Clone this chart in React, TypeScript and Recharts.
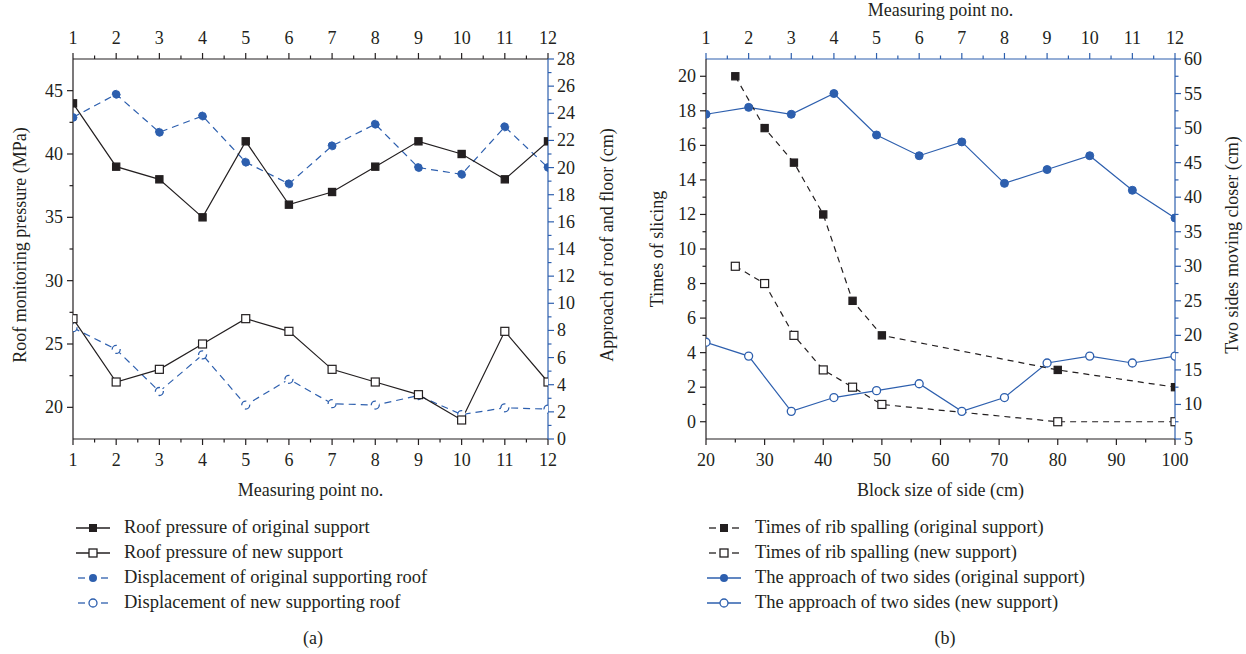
import React from 'react';
import { LineChart, Line, XAxis, YAxis, Legend } from 'recharts';

// ---------- data ----------
const measuringPoints = [1, 2, 3, 4, 5, 6, 7, 8, 9, 10, 11, 12];
const roofPressureOriginal = [44, 39, 38, 35, 41, 36, 37, 39, 41, 40, 38, 41];
const roofPressureNew = [27, 22, 23, 25, 27, 26, 23, 22, 21, 19, 26, 22];
const roofDisplacementOriginal = [23.7, 25.4, 22.6, 23.8, 20.4, 18.8, 21.6, 23.2, 20.0, 19.5, 23.0, 20.0];
const roofDisplacementNew = [8.2, 6.6, 3.5, 6.2, 2.5, 4.4, 2.6, 2.5, 3.2, 1.8, 2.3, 2.2];

const blockSizes = [25, 30, 35, 40, 45, 50, 80, 100];
const ribSpallingOriginal = [20, 17, 15, 12, 7, 5, 3, 2];
const ribSpallingNew = [9, 8, 5, 3, 2, 1, 0, 0];
const sideApproachOriginal = [52, 53, 52, 55, 49, 46, 48, 42, 44, 46, 41, 37];
const sideApproachNew = [19, 17, 9, 11, 12, 13, 9, 11, 16, 17, 16, 17];

// axis tick values (majors carry labels, the rest are minor marks)
const pointTicks = [1, 1.5, 2, 2.5, 3, 3.5, 4, 4.5, 5, 5.5, 6, 6.5, 7, 7.5, 8, 8.5, 9, 9.5, 10, 10.5, 11, 11.5, 12];
const pressureTicks = [20, 22.5, 25, 27.5, 30, 32.5, 35, 37.5, 40, 42.5, 45];
const displacementTicks = [0, 1, 2, 3, 4, 5, 6, 7, 8, 9, 10, 11, 12, 13, 14, 15, 16, 17, 18, 19, 20, 21, 22, 23, 24, 25, 26, 27, 28];
const slicingTicks = [0, 1, 2, 3, 4, 5, 6, 7, 8, 9, 10, 11, 12, 13, 14, 15, 16, 17, 18, 19, 20];
const closingTicks = [5, 7.5, 10, 12.5, 15, 17.5, 20, 22.5, 25, 27.5, 30, 32.5, 35, 37.5, 40, 42.5, 45, 47.5, 50, 52.5, 55, 57.5, 60];
const blockTicks = [20, 25, 30, 35, 40, 45, 50, 55, 60, 65, 70, 75, 80, 85, 90, 95, 100];

const roofRows = measuringPoints.map((p, i) => ({
  point: p,
  pressureOriginal: roofPressureOriginal[i],
  pressureNew: roofPressureNew[i],
  displacementOriginal: roofDisplacementOriginal[i],
  displacementNew: roofDisplacementNew[i],
}));
const ribOriginalRows = blockSizes.map((b, i) => ({ block: b, times: ribSpallingOriginal[i] }));
const ribNewRows = blockSizes.map((b, i) => ({ block: b, times: ribSpallingNew[i] }));
const approachOriginalRows = measuringPoints.map((p, i) => ({ point: p, approach: sideApproachOriginal[i] }));
const approachNewRows = measuringPoints.map((p, i) => ({ point: p, approach: sideApproachNew[i] }));

// ---------- styling ----------
const FONT = '"Liberation Serif", "DejaVu Serif", serif';
const INK = '#231f20';
const BLUE = '#2d5fae';
const FS = 18;
const LEGEND_FS = 18.5;

type Orient = 'top' | 'bottom' | 'left' | 'right';

const makeTick = (orient: Orient, color: string, isMajor: (v: number) => boolean) =>
  function AxisTick(props: any) {
    const { x, y, payload } = props;
    const v = payload.value as number;
    const major = isMajor(v);
    const len = major ? 6 : 3.5;
    let x2 = x, y2 = y, tx = x, ty = y;
    let anchor: 'middle' | 'end' | 'start' = 'middle';
    if (orient === 'bottom') { y2 = y + len; ty = y + 21; }
    if (orient === 'top') { y2 = y - len; ty = y - 21; }
    if (orient === 'left') { x2 = x - len; tx = x - 10; anchor = 'end'; }
    if (orient === 'right') { x2 = x + len; tx = x + 9; anchor = 'start'; }
    return (
      <g>
        <line x1={x} y1={y} x2={x2} y2={y2} stroke={color} strokeWidth={1.2} />
        {major && (
          <text x={tx} y={ty} textAnchor={anchor} dominantBaseline="central" fill={INK} fontFamily={FONT} fontSize={FS}>
            {v}
          </text>
        )}
      </g>
    );
  };

const every = (step: number) => (v: number) => Math.abs(v / step - Math.round(v / step)) < 1e-6;

const axisTitle = (text: string, place: (vb: any) => { x: number; y: number; angle?: number }) =>
  function AxisTitle(props: any) {
    const vb = props.viewBox || {};
    const { x, y, angle } = place(vb);
    return (
      <text
        x={x}
        y={y}
        transform={angle ? `rotate(${angle} ${x} ${y})` : undefined}
        textAnchor="middle"
        dominantBaseline="central"
        fill={INK}
        fontFamily={FONT}
        fontSize={FS}
      >
        {text}
      </text>
    );
  };

const squareDot = (filled: boolean, color: string) =>
  function SquareDot(p: any) {
    const { cx, cy, index } = p;
    if (cx == null || cy == null) return <g key={`sq-${index}`} />;
    const half = filled ? 3.6 : 4;
    return (
      <rect
        key={`sq-${index}`}
        x={cx - half}
        y={cy - half}
        width={half * 2}
        height={half * 2}
        fill={filled ? color : '#fff'}
        stroke={color}
        strokeWidth={1.2}
      />
    );
  };

type Marker = 'squareFilled' | 'squareOpen' | 'circleFilled' | 'circleOpen';
type SeriesStyle = { name: string; color: string; dashed: boolean; marker: Marker };

const roofSeries: SeriesStyle[] = [
  { name: 'Roof pressure of original support', color: INK, dashed: false, marker: 'squareFilled' },
  { name: 'Roof pressure of new support', color: INK, dashed: false, marker: 'squareOpen' },
  { name: 'Displacement of original supporting roof', color: BLUE, dashed: true, marker: 'circleFilled' },
  { name: 'Displacement of new supporting roof', color: BLUE, dashed: true, marker: 'circleOpen' },
];
const ribSeries: SeriesStyle[] = [
  { name: 'Times of rib spalling (original support)', color: INK, dashed: true, marker: 'squareFilled' },
  { name: 'Times of rib spalling (new support)', color: INK, dashed: true, marker: 'squareOpen' },
  { name: 'The approach of two sides (original support)', color: BLUE, dashed: false, marker: 'circleFilled' },
  { name: 'The approach of two sides (new support)', color: BLUE, dashed: false, marker: 'circleOpen' },
];

const LegendSymbol = ({ s }: { s: SeriesStyle }) => (
  <svg width={34} height={14} style={{ display: 'block' }}>
    {s.dashed ? (
      <>
        <line x1={2} y1={7} x2={9} y2={7} stroke={s.color} strokeWidth={1.3} />
        <line x1={25} y1={7} x2={32} y2={7} stroke={s.color} strokeWidth={1.3} />
      </>
    ) : (
      <line x1={0} y1={7} x2={34} y2={7} stroke={s.color} strokeWidth={1.3} />
    )}
    {s.marker === 'squareFilled' && <rect x={13.5} y={3.5} width={7} height={7} fill={s.color} stroke={s.color} />}
    {s.marker === 'squareOpen' && <rect x={13} y={3} width={8} height={8} fill="#fff" stroke={s.color} strokeWidth={1.3} />}
    {s.marker === 'circleFilled' && <circle cx={17} cy={7} r={4} fill={s.color} />}
    {s.marker === 'circleOpen' && <circle cx={17} cy={7} r={4} fill="#fff" stroke={s.color} strokeWidth={1.3} />}
  </svg>
);

// legend rows follow the series order given here, for the series the chart reports
const makeLegend = (styles: SeriesStyle[]) =>
  function SeriesLegend(props: any) {
    const payload: any[] = props.payload || [];
    const shown = styles.filter((s) => payload.some((e) => e.value === s.name));
    return (
      <div style={{ paddingTop: 16, fontFamily: FONT, fontSize: LEGEND_FS, color: INK }}>
        {shown.map((s) => (
          <div key={s.name} style={{ display: 'flex', alignItems: 'center', height: 25, whiteSpace: 'nowrap' }}>
            <LegendSymbol s={s} />
            <span style={{ marginLeft: 14, lineHeight: '25px' }}>{s.name}</span>
          </div>
        ))}
      </div>
    );
  };

const dotFor = (m: Marker, color: string): any => {
  if (m === 'squareFilled') return squareDot(true, color);
  if (m === 'squareOpen') return squareDot(false, color);
  if (m === 'circleFilled') return { r: 4, fill: color, stroke: color, strokeWidth: 1 };
  return { r: 4, fill: '#fff', stroke: color, strokeWidth: 1.3 };
};

// ---------- (a) roof pressure and roof-floor approach ----------
function RoofChart() {
  const [pO, pN, dO, dN] = roofSeries;
  return (
    <LineChart width={620} height={612} data={roofRows} margin={{ top: 0, right: 12, bottom: 0, left: 0 }}>
      <XAxis
        xAxisId="bottom"
        dataKey="point"
        type="number"
        domain={[1, 12]}
        allowDataOverflow
        ticks={pointTicks}
        interval={0}
        height={60}
        tickSize={0}
        tickMargin={0}
        tickLine={false}
        axisLine={{ stroke: INK, strokeWidth: 1.2 }}
        tick={makeTick('bottom', INK, every(1))}
        label={axisTitle('Measuring point no.', (vb) => ({ x: vb.x + vb.width / 2, y: vb.y + 51 }))}
      />
      <XAxis
        xAxisId="top"
        orientation="top"
        dataKey="point"
        type="number"
        domain={[1, 12]}
        allowDataOverflow
        ticks={pointTicks}
        interval={0}
        height={59}
        tickSize={0}
        tickMargin={0}
        tickLine={false}
        axisLine={{ stroke: INK, strokeWidth: 1.2 }}
        tick={makeTick('top', INK, every(1))}
      />
      <YAxis
        yAxisId="pressure"
        type="number"
        domain={[17.5, 47.5]}
        allowDataOverflow
        ticks={pressureTicks}
        interval={0}
        width={73}
        tickSize={0}
        tickMargin={0}
        tickLine={false}
        axisLine={{ stroke: INK, strokeWidth: 1.2 }}
        tick={makeTick('left', INK, every(5))}
        label={axisTitle('Roof monitoring pressure (MPa)', (vb) => ({ x: vb.x + 20, y: vb.y + vb.height / 2 - 4, angle: -90 }))}
      />
      <YAxis
        yAxisId="displacement"
        orientation="right"
        type="number"
        domain={[0, 28]}
        allowDataOverflow
        ticks={displacementTicks}
        interval={0}
        width={60}
        tickSize={0}
        tickMargin={0}
        tickLine={false}
        axisLine={{ stroke: BLUE, strokeWidth: 1.2 }}
        tick={makeTick('right', BLUE, every(2))}
        label={axisTitle('Approach of roof and floor (cm)', (vb) => ({ x: vb.x + 59, y: vb.y + vb.height / 2 - 4, angle: -90 }))}
      />
      <Legend
        layout="horizontal"
        verticalAlign="bottom"
        align="left"
        wrapperStyle={{ left: 76, bottom: 0, width: 520, height: 113 }}
        content={makeLegend(roofSeries)}
      />
      <Line xAxisId="bottom" yAxisId="displacement" name={dO.name} dataKey="displacementOriginal" stroke={BLUE} strokeWidth={1.2} strokeDasharray="7 5" dot={dotFor(dO.marker, BLUE)} activeDot={false} isAnimationActive={false} />
      <Line xAxisId="bottom" yAxisId="displacement" name={dN.name} dataKey="displacementNew" stroke={BLUE} strokeWidth={1.2} strokeDasharray="7 5" dot={dotFor(dN.marker, BLUE)} activeDot={false} isAnimationActive={false} />
      <Line xAxisId="bottom" yAxisId="pressure" name={pO.name} dataKey="pressureOriginal" stroke={INK} strokeWidth={1.2} dot={dotFor(pO.marker, INK)} activeDot={false} isAnimationActive={false} />
      <Line xAxisId="bottom" yAxisId="pressure" name={pN.name} dataKey="pressureNew" stroke={INK} strokeWidth={1.2} dot={dotFor(pN.marker, INK)} activeDot={false} isAnimationActive={false} />
    </LineChart>
  );
}

// ---------- (b) rib spalling and two-side approach ----------
function RibChart() {
  const [rO, rN, aO, aN] = ribSeries;
  return (
    <LineChart width={626} height={612} margin={{ top: 0, right: 6, bottom: 0, left: 0 }}>
      <XAxis
        xAxisId="bottom"
        dataKey="block"
        type="number"
        domain={[20, 100]}
        allowDataOverflow
        ticks={blockTicks}
        interval={0}
        height={60}
        tickSize={0}
        tickMargin={0}
        tickLine={false}
        axisLine={{ stroke: INK, strokeWidth: 1.2 }}
        tick={makeTick('bottom', INK, every(10))}
        label={axisTitle('Block size of side (cm)', (vb) => ({ x: vb.x + vb.width / 2, y: vb.y + 51 }))}
      />
      <XAxis
        xAxisId="top"
        orientation="top"
        dataKey="point"
        type="number"
        domain={[1, 12]}
        allowDataOverflow
        ticks={pointTicks}
        interval={0}
        height={59}
        tickSize={0}
        tickMargin={0}
        tickLine={false}
        axisLine={{ stroke: BLUE, strokeWidth: 1.2 }}
        tick={makeTick('top', BLUE, every(1))}
        label={axisTitle('Measuring point no.', (vb) => ({ x: vb.x + vb.width / 2, y: vb.y + 10 }))}
      />
      <YAxis
        yAxisId="slicing"
        type="number"
        domain={[-1, 21]}
        allowDataOverflow
        ticks={slicingTicks}
        interval={0}
        width={86}
        tickSize={0}
        tickMargin={0}
        tickLine={false}
        axisLine={{ stroke: INK, strokeWidth: 1.2 }}
        tick={makeTick('left', INK, every(2))}
        label={axisTitle('Times of slicing', (vb) => ({ x: vb.x + 37, y: vb.y + vb.height / 2, angle: -90 }))}
      />
      <YAxis
        yAxisId="closing"
        orientation="right"
        type="number"
        domain={[5, 60]}
        allowDataOverflow
        ticks={closingTicks}
        interval={0}
        width={65}
        tickSize={0}
        tickMargin={0}
        tickLine={false}
        axisLine={{ stroke: BLUE, strokeWidth: 1.2 }}
        tick={makeTick('right', BLUE, every(5))}
        label={axisTitle('Two sides moving closer (cm)', (vb) => ({ x: vb.x + 57, y: vb.y + vb.height / 2 - 4, angle: -90 }))}
      />
      <Legend
        layout="horizontal"
        verticalAlign="bottom"
        align="left"
        wrapperStyle={{ left: 87, bottom: 0, width: 520, height: 113 }}
        content={makeLegend(ribSeries)}
      />
      <Line data={approachOriginalRows} xAxisId="top" yAxisId="closing" name={aO.name} dataKey="approach" stroke={BLUE} strokeWidth={1.2} dot={dotFor(aO.marker, BLUE)} activeDot={false} isAnimationActive={false} />
      <Line data={approachNewRows} xAxisId="top" yAxisId="closing" name={aN.name} dataKey="approach" stroke={BLUE} strokeWidth={1.2} dot={dotFor(aN.marker, BLUE)} activeDot={false} isAnimationActive={false} />
      <Line data={ribOriginalRows} xAxisId="bottom" yAxisId="slicing" name={rO.name} dataKey="times" stroke={INK} strokeWidth={1.2} strokeDasharray="6 5" dot={dotFor(rO.marker, INK)} activeDot={false} isAnimationActive={false} />
      <Line data={ribNewRows} xAxisId="bottom" yAxisId="slicing" name={rN.name} dataKey="times" stroke={INK} strokeWidth={1.2} strokeDasharray="6 5" dot={dotFor(rN.marker, INK)} activeDot={false} isAnimationActive={false} />
    </LineChart>
  );
}

const captionStyle: React.CSSProperties = {
  position: 'absolute',
  top: 626,
  width: 60,
  textAlign: 'center',
  fontFamily: FONT,
  fontSize: FS,
  color: INK,
  lineHeight: '24px',
};

export default function App() {
  return (
    <div style={{ position: 'absolute', left: 0, top: 0, width: 1246, height: 654, background: '#fff', overflow: 'hidden' }}>
      <div style={{ position: 'absolute', left: 0, top: 0 }}>
        <RoofChart />
      </div>
      <div style={{ position: 'absolute', left: 620, top: 0 }}>
        <RibChart />
      </div>
      <div style={{ ...captionStyle, left: 283 }}>(a)</div>
      <div style={{ ...captionStyle, left: 915 }}>(b)</div>
    </div>
  );
}
